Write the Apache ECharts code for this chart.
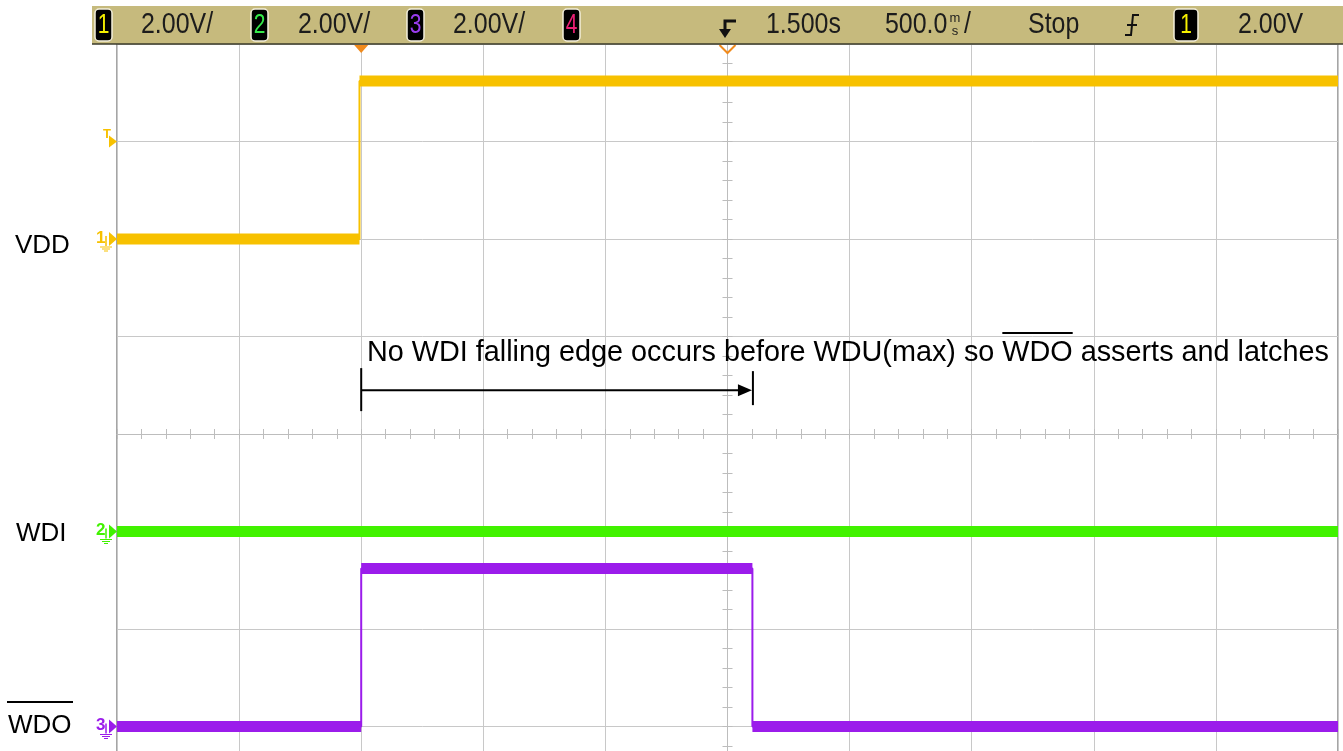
<!DOCTYPE html>
<html>
<head>
<meta charset="utf-8">
<script src="https://cdn.jsdelivr.net/npm/echarts@6/dist/echarts.min.js"></script>
<style>
html, body { margin: 0; padding: 0; background: #fff; }
#chart { width: 1343px; height: 751px; }
</style>
</head>
<body>
<div id="chart"></div>
<script>
// time in seconds from the trigger point (screen centre), 500 ms/div
const timeMin = -2.5;
const timeMax = 2.5;
const timePerDiv = 0.5;
const voltsPerDiv = 2.0;

const channelNames = ['VDD', 'WDI', 'WDO'];
const channelColors = ['#f7c100', '#41f200', '#9b1ceb'];
const channelOffsets = [2, -1, -3]; // ground marker, in divisions

const vddTime = [-2.5, -1.507, -1.507, 2.5];
const vddVolts = [0, 0, 3.24, 3.24];
const wdiTime = [-2.5, 2.5];
const wdiVolts = [0, 0];
const wdoTime = [-2.5, -1.5, -1.5, 0.102, 0.102, 2.5];
const wdoVolts = [0, 0, 3.24, 3.24, 0, 0];

const triggerLevel = 2.0;
const wduStart = -1.5;
const wduEnd = 0.1;
const noteText = 'No WDI falling edge occurs before WDU(max) so WDO asserts and latches';

const headerFont = '"Liberation Sans", sans-serif';
const labelFont = '"Liberation Sans", sans-serif';

function toDiv(v, ch) {
  return v / voltsPerDiv + channelOffsets[ch];
}

function thinData(times, volts, ch) {
  return times.map((t, i) => [t, toDiv(volts[i], ch)]);
}

// thick trace only on the flat parts, broken at each edge
function bandData(times, volts, ch) {
  let out = [];
  for (let i = 0; i < times.length; i++) {
    if (i > 0 && times[i] === times[i - 1]) out.push([times[i], null]);
    out.push([times[i], toDiv(volts[i], ch)]);
  }
  return out;
}

const traces = [
  [vddTime, vddVolts],
  [wdiTime, wdiVolts],
  [wdoTime, wdoVolts],
];

let series = [];
traces.forEach((tr, ch) => {
  series.push({
    type: 'line',
    data: thinData(tr[0], tr[1], ch),
    symbol: 'none',
    animation: false,
    lineStyle: { color: channelColors[ch], width: 2 },
    z: 3,
  });
  series.push({
    type: 'line',
    data: bandData(tr[0], tr[1], ch),
    symbol: 'none',
    animation: false,
    connectNulls: false,
    lineStyle: { color: channelColors[ch], width: 11, cap: 'butt' },
    z: 4,
  });
});

function centreAxis(splitShow, inside, interval, min, max) {
  return {
    type: 'value',
    min: min,
    max: max,
    interval: interval,
    axisLabel: { show: false },
    axisLine: { show: true, onZero: true, onZeroAxisIndex: 0, lineStyle: { color: '#bdbdbd', width: 1 } },
    axisTick: { show: true, inside: inside, length: 5, lineStyle: { color: '#bdbdbd' } },
    minorTick: { show: true, splitNumber: 5, length: 5, lineStyle: { color: '#bdbdbd' } },
    splitLine: { show: splitShow, lineStyle: { color: '#c8c8c8', width: 1 } },
  };
}

var dom = document.getElementById('chart');
var myChart = echarts.init(dom, null, { renderer: 'canvas' });

var option = {
  animation: false,
  backgroundColor: '#ffffff',
  grid: {
    left: 117,
    top: 44,
    width: 1221,
    height: 780,
    outerBoundsMode: 'none',
    show: true,
    borderColor: '#4a4a4a',
    borderWidth: 1,
    backgroundColor: 'transparent',
  },
  xAxis: [
    centreAxis(true, false, timePerDiv, timeMin, timeMax),
    centreAxis(false, true, timePerDiv, timeMin, timeMax),
  ],
  yAxis: [
    centreAxis(true, false, 1, -4, 4),
    centreAxis(false, true, 1, -4, 4),
  ],
  series: series,
};
option.xAxis[0].position = 'bottom';
option.xAxis[1].position = 'bottom';
option.yAxis[0].position = 'left';
option.yAxis[1].position = 'left';
myChart.setOption(option);

// ---- overlay: scope header, markers, labels, annotation ----
const px = (t, d) => myChart.convertToPixel({ xAxisIndex: 0, yAxisIndex: 0 }, [t, d]);

let g = [];

function badge(x, w, label, color) {
  g.push({
    type: 'rect',
    shape: { x: x, y: 9, width: w, height: 32, r: 4 },
    style: { fill: '#000', stroke: '#f4f0dc', lineWidth: 1.5 },
    z: 101,
  });
  g.push({
    type: 'text',
    x: x + w / 2,
    y: 25,
    scaleX: 0.75,
    style: {
      text: label,
      fill: color,
      font: '28px ' + headerFont,
      align: 'center',
      verticalAlign: 'middle',
    },
    z: 102,
  });
}

function headText(x, s) {
  g.push({
    type: 'text',
    x: x,
    y: 25,
    scaleX: 0.86,
    style: { text: s, fill: '#1c1c1c', font: '29px ' + headerFont, verticalAlign: 'middle' },
    z: 102,
  });
}

g.push({
  type: 'rect',
  shape: { x: 92, y: 6, width: 1251, height: 38 },
  style: { fill: '#c6ba7d' },
  z: 100,
});
g.push({
  type: 'line',
  shape: { x1: 92, y1: 44, x2: 1343, y2: 44 },
  style: { stroke: '#3a3a2a', lineWidth: 1.5 },
  z: 101,
});

badge(95, 17, '1', '#f5f000');
headText(141, '2.00V/');
badge(251, 17, '2', '#36e84a');
headText(298, '2.00V/');
badge(407, 17, '3', '#9a3cf0');
headText(453, '2.00V/');
badge(563, 17, '4', '#ea1f74');

// delay icon
g.push({
  type: 'polyline',
  shape: { points: [[736, 21], [725, 21], [725, 31]] },
  style: { stroke: '#111', lineWidth: 3, fill: null },
  z: 102,
});
g.push({
  type: 'polygon',
  shape: { points: [[719, 29], [731, 29], [725, 38]] },
  style: { fill: '#111' },
  z: 102,
});

headText(766, '1.500s');
headText(885, '500.0');
g.push({
  type: 'text', x: 955, y: 18,
  style: { text: 'm', fill: '#1c1c1c', font: '13px ' + headerFont, align: 'center', verticalAlign: 'middle' },
  z: 102,
});
g.push({
  type: 'text', x: 955, y: 31,
  style: { text: 's', fill: '#1c1c1c', font: '13px ' + headerFont, align: 'center', verticalAlign: 'middle' },
  z: 102,
});
headText(964, '/');
headText(1028, 'Stop');

// trigger slope icon
g.push({
  type: 'polyline',
  shape: { points: [[1125, 35], [1131, 35], [1133, 15], [1139, 15]] },
  style: { stroke: '#111', lineWidth: 2, fill: null },
  z: 102,
});
g.push({
  type: 'line',
  shape: { x1: 1127, y1: 25, x2: 1137, y2: 25 },
  style: { stroke: '#111', lineWidth: 2 },
  z: 102,
});
badge(1174, 24, '1', '#f5f000');
headText(1238, '2.00V');

// trigger position markers on top edge
let trigPos = px(wduStart, 4);
g.push({
  type: 'polygon',
  shape: { points: [[trigPos[0] - 7, 45], [trigPos[0] + 7, 45], [trigPos[0], 53]] },
  style: { fill: '#f08a1c' },
  z: 50,
});
let centre = px(0, 4);
g.push({
  type: 'polyline',
  shape: { points: [[centre[0] - 8, 45], [centre[0], 53], [centre[0] + 8, 45]] },
  style: { stroke: '#f08a1c', lineWidth: 2, fill: null },
  z: 50,
});

// channel ground markers and names
const nameY = [246, 534, 726];
const nameX = [15, 16, 8];
const markerDigits = ['1', '2', '3'];
for (let ch = 0; ch < 3; ch++) {
  let p = px(timeMin, channelOffsets[ch]);
  let y = p[1];
  let c = channelColors[ch];
  g.push({
    type: 'text', x: 96, y: y - 1,
    style: { text: markerDigits[ch], fill: c, font: 'bold 17px ' + labelFont, verticalAlign: 'middle' },
    z: 50,
  });
  g.push({
    type: 'polygon',
    shape: { points: [[109, y - 7], [117, y], [109, y + 7]] },
    style: { fill: c },
    z: 50,
  });
  g.push({
    type: 'polyline',
    shape: { points: [[106, y - 3], [106, y + 7]] },
    style: { stroke: c, lineWidth: 1.5, fill: null },
    z: 50,
  });
  [[100, 112], [102, 110], [104, 108]].forEach((xx, k) => {
    g.push({
      type: 'line',
      shape: { x1: xx[0], y1: y + 8 + k * 2, x2: xx[1], y2: y + 8 + k * 2 },
      style: { stroke: c, lineWidth: 1 },
      z: 50,
    });
  });
  g.push({
    type: 'text', x: nameX[ch], y: nameY[ch],
    style: { text: channelNames[ch], fill: '#000', font: '26px ' + labelFont, verticalAlign: 'middle' },
    z: 50,
  });
}
// overline on WDO channel label
g.push({
  type: 'line',
  shape: { x1: 7, y1: 702, x2: 73, y2: 702 },
  style: { stroke: '#000', lineWidth: 2 },
  z: 50,
});

// trigger level marker
let tl = px(timeMin, toDiv(triggerLevel, 0));
g.push({
  type: 'text', x: 103, y: tl[1] - 7,
  style: { text: 'T', fill: channelColors[0], font: 'bold 13px ' + labelFont, verticalAlign: 'middle' },
  z: 50,
});
g.push({
  type: 'polygon',
  shape: { points: [[109, tl[1] - 6], [117, tl[1]], [109, tl[1] + 6]] },
  style: { fill: channelColors[0] },
  z: 50,
});

// annotation text with overline over WDO
const noteFont = '28.8px ' + labelFont;
g.push({
  type: 'text', x: 367, y: 353,
  style: { text: noteText, fill: '#000', font: noteFont, verticalAlign: 'middle' },
  z: 60,
});
let ctx = document.createElement('canvas').getContext('2d');
ctx.font = noteFont;
let idx = noteText.indexOf('WDO');
let ox1 = 367 + ctx.measureText(noteText.slice(0, idx)).width;
let ox2 = ox1 + ctx.measureText('WDO').width;
g.push({
  type: 'line',
  shape: { x1: ox1, y1: 333, x2: ox2, y2: 333 },
  style: { stroke: '#000', lineWidth: 2 },
  z: 60,
});

// WDU(max) interval arrow
let a0 = px(wduStart, 0.45);
let a1 = px(wduEnd, 0.45);
g.push({
  type: 'line',
  shape: { x1: a0[0], y1: a0[1], x2: a1[0] - 4, y2: a1[1] },
  style: { stroke: '#000', lineWidth: 2 },
  z: 60,
});
g.push({
  type: 'polygon',
  shape: { points: [[a1[0] - 14, a1[1] - 6], [a1[0], a1[1]], [a1[0] - 14, a1[1] + 6]] },
  style: { fill: '#000' },
  z: 60,
});
g.push({
  type: 'line',
  shape: { x1: a0[0], y1: a0[1] - 22, x2: a0[0], y2: a0[1] + 21 },
  style: { stroke: '#000', lineWidth: 2 },
  z: 60,
});
g.push({
  type: 'line',
  shape: { x1: a1[0] + 1, y1: a1[1] - 19, x2: a1[0] + 1, y2: a1[1] + 15 },
  style: { stroke: '#000', lineWidth: 2 },
  z: 60,
});

myChart.setOption({ graphic: { elements: g } });
window.addEventListener('resize', myChart.resize);
</script>
</body>
</html>
